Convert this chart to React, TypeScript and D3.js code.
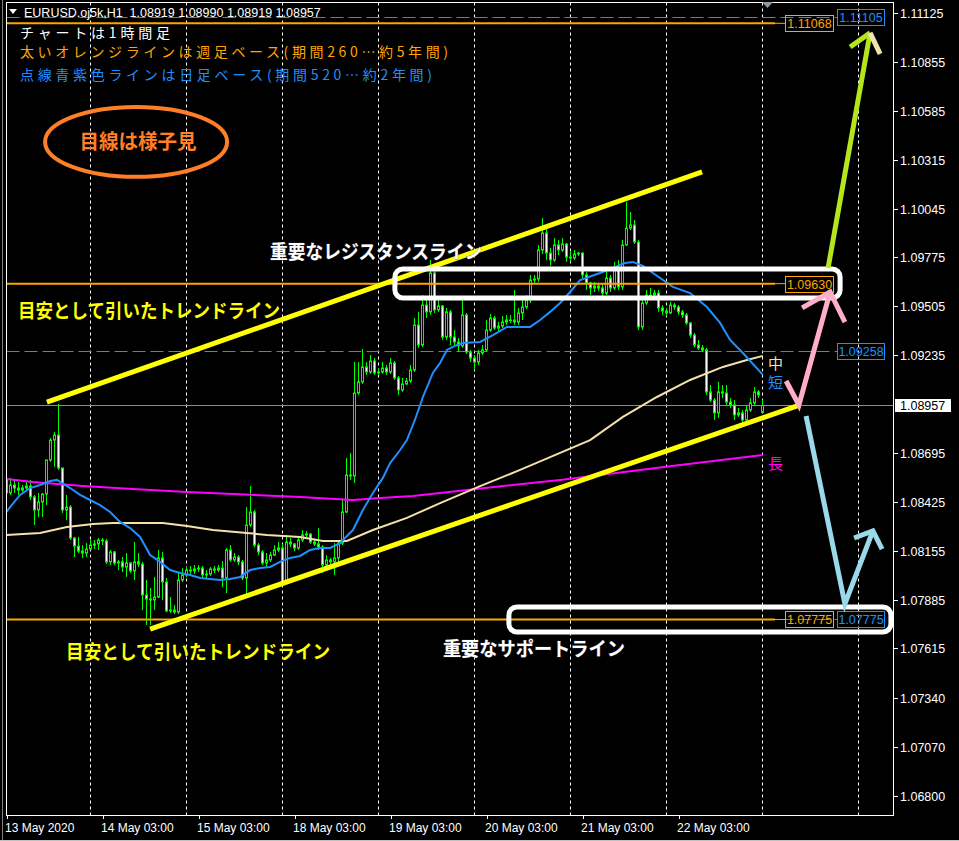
import React, { useEffect } from 'react';
import * as d3 from 'd3';

const W = 959;
const H = 841;

// ---- candle data (EURUSD H1, 13 May 03:00 .. 22 May) ----
const OPEN_FIRST = 1.08546;
const OPEN_LAST = 1.08919;
const closes = [
  1.08474, 1.08518, 1.08501, 1.0849, 1.08501, 1.08512, 1.08452, 1.0838, 1.08424, 1.08468,
  1.08656, 1.08766, 1.08794, 1.08612, 1.0838, 1.08396, 1.08225, 1.08181, 1.08153, 1.08142,
  1.08164, 1.08186, 1.08192, 1.08214, 1.08209, 1.08093, 1.08148, 1.08087, 1.08093, 1.08065,
  1.08087, 1.08043, 1.08093, 1.08081, 1.0791, 1.07888, 1.07883, 1.07899, 1.08115, 1.07982,
  1.07822, 1.07827, 1.07816, 1.07993, 1.08021, 1.08048, 1.08043, 1.08054, 1.08059, 1.08021,
  1.08026, 1.08054, 1.08048, 1.08059, 1.08004, 1.08159, 1.08104, 1.0812, 1.08093, 1.08004,
  1.08297, 1.08369, 1.08186, 1.08148, 1.08087, 1.08104, 1.08131, 1.08159, 1.0817, 1.07982,
  1.08203, 1.08192, 1.0817, 1.08214, 1.08242, 1.08247, 1.08203, 1.08192, 1.08175, 1.08076,
  1.08104, 1.08093, 1.08115, 1.08197, 1.08369, 1.08573, 1.08568, 1.09026, 1.09087, 1.0917,
  1.09142, 1.09203, 1.09137, 1.09142, 1.09164, 1.09142, 1.09192, 1.09109, 1.09043, 1.09076,
  1.09092, 1.09153, 1.09402, 1.09291, 1.09512, 1.09474, 1.09689, 1.09485, 1.09507, 1.09335,
  1.09474, 1.09335, 1.09308, 1.09286, 1.09457, 1.09253, 1.09219, 1.09197, 1.09247, 1.09264,
  1.09374, 1.0944, 1.09385, 1.09396, 1.09418, 1.09429, 1.09429, 1.09418, 1.09468, 1.09501,
  1.0954, 1.0965, 1.09656, 1.09816, 1.0991, 1.09799, 1.09761, 1.09844, 1.09816, 1.09849,
  1.09777, 1.09772, 1.09794, 1.09799, 1.09678, 1.09634, 1.09606, 1.09617, 1.09606, 1.09578,
  1.09661, 1.09606, 1.09706, 1.09612, 1.09844, 1.09937, 1.09954, 1.0986, 1.09391, 1.09523,
  1.09567, 1.09567, 1.09578, 1.09496, 1.09479, 1.09468, 1.09512, 1.09501, 1.09474, 1.09457,
  1.09413, 1.09346, 1.09291, 1.09275, 1.09264, 1.09032, 1.08987, 1.08916, 1.09032, 1.09026,
  1.08976, 1.0896, 1.08905, 1.08916, 1.08877, 1.08932, 1.08971, 1.09032, 1.09015, 1.08957,
];
const highs = [
  1.08568, 1.08557, 1.08546, 1.08534, 1.08518, 1.08534, 1.08546, 1.08463, 1.08474, 1.08474,
  1.08656, 1.08778, 1.08811, 1.08965, 1.08612, 1.08463, 1.08407, 1.08231, 1.08231, 1.08186,
  1.08197, 1.08214, 1.08214, 1.08225, 1.08225, 1.0822, 1.08159, 1.08153, 1.08104, 1.0812,
  1.08142, 1.08093, 1.08203, 1.08142, 1.08093, 1.07993, 1.07949, 1.0801, 1.08159, 1.08148,
  1.08004, 1.07899, 1.07855, 1.08032, 1.08059, 1.08065, 1.0807, 1.08076, 1.08076, 1.0807,
  1.08048, 1.08065, 1.0807, 1.08076, 1.08098, 1.0817, 1.08186, 1.08142, 1.08131, 1.08104,
  1.08396, 1.08512, 1.0838, 1.08197, 1.08159, 1.08142, 1.08148, 1.08186, 1.08203, 1.08192,
  1.08242, 1.08225, 1.08197, 1.08231, 1.08269, 1.08264, 1.08253, 1.08214, 1.0828, 1.08186,
  1.08131, 1.08115, 1.08197, 1.08214, 1.08435, 1.08667, 1.08695, 1.09197, 1.09197, 1.09269,
  1.09197, 1.09236, 1.09219, 1.09164, 1.09197, 1.09181, 1.09219, 1.09203, 1.0912, 1.09109,
  1.09109, 1.09181, 1.0944, 1.09474, 1.09567, 1.0954, 1.09761, 1.09733, 1.0954, 1.09512,
  1.09496, 1.09485, 1.09374, 1.0933, 1.0954, 1.09468, 1.09264, 1.09236, 1.09264, 1.09291,
  1.09429, 1.09462, 1.09451, 1.09418, 1.09451, 1.09457, 1.09457, 1.09595, 1.09496, 1.0954,
  1.09567, 1.09678, 1.09678, 1.09844, 1.09993, 1.09937, 1.09827, 1.09882, 1.09871, 1.09882,
  1.09855, 1.09805, 1.09816, 1.09805, 1.09805, 1.09694, 1.09639, 1.09639, 1.09628, 1.09628,
  1.09706, 1.09678, 1.0975, 1.09761, 1.09871, 1.10081, 1.10026, 1.09982, 1.09871, 1.0954,
  1.09595, 1.09606, 1.09595, 1.09595, 1.09512, 1.09496, 1.09529, 1.09523, 1.09512, 1.09485,
  1.09468, 1.09418, 1.09357, 1.09319, 1.09291, 1.09275, 1.0907, 1.08998, 1.09087, 1.0907,
  1.0907, 1.08998, 1.08987, 1.08943, 1.08932, 1.0896, 1.08998, 1.09059, 1.09043, 1.0899,
];
const lows = [
  1.08446, 1.08463, 1.08474, 1.08463, 1.08479, 1.0849, 1.08435, 1.08297, 1.08341, 1.08341,
  1.08407, 1.08645, 1.08617, 1.08601, 1.08363, 1.08325, 1.08214, 1.0812, 1.08142, 1.08115,
  1.0812, 1.08159, 1.08164, 1.08159, 1.08186, 1.08081, 1.08076, 1.08076, 1.08048, 1.08037,
  1.0801, 1.08032, 1.07993, 1.08065, 1.07827, 1.07745, 1.07745, 1.07827, 1.07894, 1.07883,
  1.07816, 1.07811, 1.07805, 1.07805, 1.07982, 1.0801, 1.08021, 1.08026, 1.08037, 1.08004,
  1.07999, 1.08015, 1.08032, 1.08037, 1.07954, 1.07921, 1.08093, 1.08093, 1.08076, 1.07993,
  1.0791, 1.08286, 1.08175, 1.08131, 1.08076, 1.08065, 1.08093, 1.08126, 1.08148, 1.07966,
  1.07971, 1.08175, 1.08153, 1.08159, 1.08203, 1.08225, 1.08192, 1.08181, 1.08159, 1.08032,
  1.0807, 1.08081, 1.08021, 1.08093, 1.08186, 1.08363, 1.08546, 1.08529, 1.09015, 1.09076,
  1.09126, 1.09131, 1.09126, 1.09126, 1.09131, 1.09126, 1.09131, 1.09098, 1.09015, 1.09032,
  1.0907, 1.09081, 1.09142, 1.09275, 1.0928, 1.0944, 1.09457, 1.09468, 1.09474, 1.09319,
  1.09319, 1.09291, 1.0928, 1.09253, 1.09275, 1.09242, 1.09197, 1.09153, 1.09181, 1.09236,
  1.09253, 1.09363, 1.09374, 1.09363, 1.09385, 1.09402, 1.09413, 1.09402, 1.09402, 1.09429,
  1.0949, 1.09523, 1.09634, 1.09639, 1.09794, 1.09761, 1.09728, 1.0975, 1.09788, 1.09805,
  1.0975, 1.0975, 1.09761, 1.09783, 1.09661, 1.09595, 1.09567, 1.09584, 1.0959, 1.09551,
  1.09567, 1.09584, 1.09595, 1.09595, 1.09595, 1.09838, 1.09926, 1.09849, 1.09374, 1.09374,
  1.09512, 1.0954, 1.09551, 1.09474, 1.09457, 1.09451, 1.09462, 1.09485, 1.09457, 1.0944,
  1.09402, 1.0933, 1.0928, 1.09264, 1.09253, 1.09015, 1.08976, 1.08877, 1.08888, 1.08998,
  1.0896, 1.08943, 1.08877, 1.08894, 1.0886, 1.08871, 1.08921, 1.0896, 1.08998, 1.08919,
];

// ---- moving averages as [bar, price] ----
const maShort: [number, number][] = [
  [0, 1.08369], [0.9, 1.08396], [3.4, 1.08463], [5.9, 1.08501], [8.4, 1.08518], [10.9, 1.0854],
  [12.6, 1.08546], [13.9, 1.08529], [15.9, 1.08501], [18.4, 1.08463], [20.9, 1.08435],
  [23.4, 1.08407], [25.9, 1.08369], [28.4, 1.08314], [30.9, 1.0828], [33.4, 1.08231],
  [35.9, 1.08131], [38.4, 1.08093], [40.9, 1.08048], [43.4, 1.08032], [45.9, 1.08021],
  [48.4, 1.08004], [50.9, 1.07999], [53.4, 1.07993], [55.9, 1.07999], [58.4, 1.0801],
  [60.9, 1.08048], [63.4, 1.08059], [65.9, 1.08065], [68.4, 1.08093], [70.9, 1.08115],
  [73.4, 1.08126], [75.9, 1.08159], [78.4, 1.0817], [80.9, 1.0817], [83.4, 1.08197],
  [84.6, 1.08225], [86.6, 1.08269], [89.1, 1.0838], [91.6, 1.08474], [94.1, 1.08557],
  [95.9, 1.08639], [98.4, 1.08711], [100.1, 1.08766], [102.1, 1.08877], [104.1, 1.09004],
  [106.6, 1.09137], [108.4, 1.09192], [110.1, 1.09264], [112.1, 1.09286], [114.1, 1.09302],
  [118.4, 1.09308], [121.6, 1.09346], [125.1, 1.09391], [130.9, 1.09391], [133.4, 1.09429],
  [135.9, 1.09474], [138.4, 1.09523], [140.9, 1.09584], [143.4, 1.0965], [148.4, 1.09689],
  [151.6, 1.09717], [154.6, 1.09744], [156.6, 1.0975], [159.1, 1.09728], [161.6, 1.09689],
  [166.6, 1.09612], [170.9, 1.09578], [175.1, 1.09501], [178.4, 1.09413], [180.9, 1.09319],
  [184.1, 1.09247], [189.1, 1.09126],
];
const maMid: [number, number][] = [
  [0, 1.08242], [8.4, 1.08253], [15.1, 1.08286], [21.6, 1.08302], [26.6, 1.08308],
  [39.1, 1.08308], [45.1, 1.08291], [51.6, 1.08269], [60.1, 1.08253], [65.1, 1.08242],
  [73.4, 1.08231], [79.1, 1.08209], [85.1, 1.08209], [91.6, 1.08269], [100.1, 1.08336],
  [108.4, 1.08418], [118.4, 1.08512], [128.4, 1.08601], [138.4, 1.08695], [145.9, 1.08766],
  [154.1, 1.08894], [162.6, 1.09004], [170.9, 1.09098], [179.1, 1.0917], [185.1, 1.09208],
  [189.1, 1.09231],
];
const maLong: [number, number][] = [
  [0, 1.08551], [6.6, 1.08534], [19.1, 1.08512], [31.6, 1.08496], [45.1, 1.08479],
  [56.6, 1.08468], [73.4, 1.08452], [86.6, 1.08435], [93.4, 1.08446], [101.6, 1.08457],
  [108.4, 1.08474], [138.4, 1.08546], [168.4, 1.08628], [189.1, 1.08684],
];

// ---- axis ----
const priceTicks = [
  1.11125, 1.10855, 1.10585, 1.10315, 1.10045, 1.09775, 1.09505, 1.09235,
  1.08695, 1.08425, 1.08155, 1.07885, 1.07615, 1.0734, 1.0707, 1.068,
];
const timeTickBars = [0, 24, 48, 72, 96, 120, 144, 168];
const timeTickLabels = [
  '13 May 2020', '14 May 03:00', '15 May 03:00', '18 May 03:00',
  '19 May 03:00', '20 May 03:00', '21 May 03:00', '22 May 03:00',
];
const gridBars = [21, 45, 69, 93, 117, 141, 165, 189, 213];
const CURRENT_PRICE = 1.08957;
const orangeLevels = [1.11068, 1.0963, 1.07775];
const blueLevels = [1.11105, 1.09258, 1.07775];

// ---- annotations in chart coordinates [bar, price] ----
const upperTrend: [number, number][] = [[10.1, 1.08976], [173.9, 1.10247]];
const lowerTrend: [number, number][] = [[35.9, 1.07722], [198.4, 1.0896]];
const greenArrow: [number, number][] = [[205.4, 1.09717], [215.9, 1.11015]];
const greenHeadL: [number, number][] = [[210.9, 1.10937], [215.9, 1.11015]];
const greenHeadR: [number, number][] = [[215.9, 1.11015], [218.4, 1.10899]];
const pinkArrow: [number, number][] = [[194.9, 1.09092], [198.1, 1.0896], [205.9, 1.09584]];
const pinkHead: [number, number][] = [[198.9, 1.09496], [205.9, 1.09584], [209.6, 1.09418]];
const blueArrow: [number, number][] = [[199.9, 1.08899], [209.6, 1.07861], [216.6, 1.08264]];
const blueHead: [number, number][] = [[211.9, 1.08225], [216.6, 1.08264], [218.9, 1.08164]];
const resistBox = { b0: 97.1, b1: 208.4, p0: 1.09711, p1: 1.09551 };
const supportBox = { b0: 125.6, b1: 221.1, p0: 1.07844, p1: 1.07706 };
const ellipse = { b: 32.4, p: 1.10413, rb: 22.75, rp: 0.00193 };

export default function App() {
  useEffect(() => {
    document.body.style.margin = '0';
    document.body.style.background = '#000';
  }, []);

  const xS = d3.scaleLinear().domain([0, 221.625]).range([6.5, 893]);
  const yS = d3.scaleLinear().domain([1.068, 1.11125]).range([796, 13]);
  const lastIdx = closes.length - 1;
  const opens = closes.map((c, i) => (i === 0 ? OPEN_FIRST : i === lastIdx ? OPEN_LAST : closes[i - 1]));

  const line = d3.line<[number, number]>().x((d) => xS(d[0])).y((d) => yS(d[1]));
  const plotL = 6.5, plotR = 893.5, plotT = 2.5, plotB = 815.5;
  const axisFont = "'Liberation Sans', Arial, sans-serif";
  const jp = "'Noto Sans CJK JP', sans-serif";
  const crisp = (v: number) => Math.round(v) + 0.5;

  return (
    <svg width={W} height={H} style={{ position: 'absolute', left: 0, top: 0, background: '#000', display: 'block' }}>
      <rect x={0} y={0} width={W} height={H} fill="#000" />
      <line x1={2.5} x2={2.5} y1={0} y2={H} stroke="#808080" />
      <line x1={0} x2={W} y1={840.5} y2={840.5} stroke="#c0c0c0" />
      <defs>
        <clipPath id="plot">
          <rect x={plotL} y={plotT} width={plotR - plotL} height={plotB - plotT} />
        </clipPath>
      </defs>

      {/* grid */}
      {gridBars.map((b) => (
        <line key={b} x1={Math.floor(xS(b)) + 0.5} x2={Math.floor(xS(b)) + 0.5} y1={plotT} y2={plotB}
          stroke="#ffffff" strokeDasharray="3,3" />
      ))}

      <g clipPath="url(#plot)">
        {/* current price line */}
        <line x1={plotL} x2={plotR} y1={crisp(yS(CURRENT_PRICE))} y2={crisp(yS(CURRENT_PRICE))} stroke="#8c8c8c" />
        {/* blue dashed levels */}
        {blueLevels.map((p) => (
          <line key={'b' + p} x1={plotL} x2={837} y1={crisp(yS(p))} y2={crisp(yS(p))}
            stroke="#1E90FF" strokeDasharray="13,5" />
        ))}

        {/* candles */}
        {closes.map((c, i) => {
          const o = opens[i];
          const cx = xS(i);
          const yo = yS(o), yc = yS(c);
          const top = Math.min(yo, yc), bot = Math.max(yo, yc);
          const bull = c >= o;
          return (
            <g key={i}>
              <line x1={cx} x2={cx} y1={yS(highs[i])} y2={yS(lows[i])} stroke="#00ff00" />
              <rect x={cx - 1} y={top} width={2} height={Math.max(bot - top, 0.6)}
                fill={bull ? '#000' : '#fff'} stroke="#00ff00" strokeWidth={1} />
            </g>
          );
        })}

        {/* moving averages */}
        <path d={line(maLong) || ''} fill="none" stroke="#FF00FF" strokeWidth={2} />
        <path d={line(maMid) || ''} fill="none" stroke="#F5E1A8" strokeWidth={2} />
        <path d={line(maShort) || ''} fill="none" stroke="#1E90FF" strokeWidth={2} />

        {/* orange levels */}
        {orangeLevels.map((p) => (
          <g key={'o' + p}>
            <line x1={plotL} x2={775} y1={yS(p)} y2={yS(p)} stroke="#FFA500" strokeWidth={2} />
            <line x1={775} x2={785} y1={yS(p)} y2={yS(p)} stroke="#FFA500" strokeWidth={1} />
          </g>
        ))}
      </g>

      {/* level labels */}
      {orangeLevels.map((p) => (
        <g key={'ol' + p}>
          <rect x={785.5} y={Math.round(yS(p)) - 7.5} width={48} height={16} fill="none" stroke="#FFA500" />
          <text x={809.5} y={Math.round(yS(p)) + 5} textAnchor="middle" fill="#FFA500" fontFamily={axisFont} fontSize={12.5}>
            {p.toFixed(5)}
          </text>
        </g>
      ))}
      {blueLevels.map((p) => (
        <g key={'bl' + p}>
          <rect x={837.5} y={Math.round(yS(p)) - 7.5} width={47} height={16} fill="none" stroke="#1E90FF" />
          <text x={861} y={Math.round(yS(p)) + 5} textAnchor="middle" fill="#1E90FF" fontFamily={axisFont} fontSize={12.5}>
            {p.toFixed(5)}
          </text>
        </g>
      ))}

      {/* trend lines */}
      <path d={line(upperTrend) || ''} stroke="#FFFF00" strokeWidth={5} fill="none" />
      <path d={line(lowerTrend) || ''} stroke="#FFFF00" strokeWidth={5} fill="none" />

      {/* white boxes */}
      <rect x={xS(resistBox.b0)} y={yS(resistBox.p0)} width={xS(resistBox.b1) - xS(resistBox.b0)}
        height={yS(resistBox.p1) - yS(resistBox.p0)} rx={8} fill="none" stroke="#fff" strokeWidth={5} />
      <rect x={xS(supportBox.b0)} y={yS(supportBox.p0)} width={xS(supportBox.b1) - xS(supportBox.b0)}
        height={yS(supportBox.p1) - yS(supportBox.p0)} rx={8} fill="none" stroke="#fff" strokeWidth={5} />

      {/* orange ellipse */}
      <ellipse cx={xS(ellipse.b)} cy={yS(ellipse.p)} rx={xS(ellipse.b + ellipse.rb) - xS(ellipse.b)}
        ry={yS(ellipse.p - ellipse.rp) - yS(ellipse.p)} fill="none" stroke="#FF7F27" strokeWidth={4} />
      <text x={xS(ellipse.b) + 2} y={yS(ellipse.p) + 7} textAnchor="middle" fill="#FF7F27" fontFamily={jp}
        fontWeight={700} fontSize={20} textLength={117} lengthAdjust="spacingAndGlyphs">目線は様子見</text>

      {/* annotation texts */}
      <text x={xS(65.9)} y={yS(1.09805) + 7} fill="#ffffff" fontFamily={jp} fontWeight={700} fontSize={19}
        textLength={212} lengthAdjust="spacingAndGlyphs" stroke="#445" strokeWidth={0.6} paintOrder="stroke">重要なレジスタンスライン</text>
      <text x={xS(2.9)} y={yS(1.09479) + 7} fill="#FFFF00" fontFamily={jp} fontWeight={700} fontSize={19}
        textLength={262} lengthAdjust="spacingAndGlyphs">目安として引いたトレンドライン</text>
      <text x={xS(14.9)} y={yS(1.07595) + 7} fill="#FFFF00" fontFamily={jp} fontWeight={700} fontSize={19}
        textLength={264} lengthAdjust="spacingAndGlyphs">目安として引いたトレンドライン</text>
      <text x={xS(109.1)} y={yS(1.07612) + 7} fill="#ffffff" fontFamily={jp} fontWeight={700} fontSize={19}
        textLength={182} lengthAdjust="spacingAndGlyphs" stroke="#445" strokeWidth={0.6} paintOrder="stroke">重要なサポートライン</text>

      {/* MA labels */}
      <text x={xS(190.4)} y={yS(1.09192) + 6} fill="#F5E1A8" fontFamily={jp} fontSize={15}>中</text>
      <text x={xS(190.4)} y={yS(1.09087) + 6} fill="#1E90FF" fontFamily={jp} fontSize={15}>短</text>
      <text x={xS(190.4)} y={yS(1.08639) + 6} fill="#FF00FF" fontFamily={jp} fontSize={15}>長</text>

      {/* arrows */}
      <g fill="none" strokeWidth={5} strokeLinecap="butt" strokeLinejoin="miter">
        <path d={line(greenArrow) || ''} stroke="#B5E61D" />
        <path d={line(greenHeadL) || ''} stroke="#B5E61D" />
        <path d={line(greenHeadR) || ''} stroke="#EFE4B0" />
        <path d={line(pinkArrow) || ''} stroke="#FFAEC9" />
        <path d={line(pinkHead) || ''} stroke="#FFAEC9" />
        <path d={line(blueArrow) || ''} stroke="#99D9EA" />
        <path d={line(blueHead) || ''} stroke="#99D9EA" />
      </g>

      {/* frame */}
      <rect x={plotL} y={plotT} width={plotR - plotL} height={plotB - plotT} fill="none" stroke="#ffffff" />
      <polygon points="762,2 773,2 767.5,8" fill="#8a9aa8" />

      {/* header */}
      <polygon points="9,9 17,9 13,14" fill="#ffffff" />
      <text x={24} y={17} fill="#ffffff" fontFamily={axisFont} fontSize={12.5} style={{ whiteSpace: 'pre' }}>
        {'EURUSD.oj5k,H1  1.08919 1.08990 1.08919 1.08957'}
      </text>
      <text x={20} y={38} fill="#ffffff" fontFamily={jp} fontSize={14} textLength={150} lengthAdjust="spacing">チャートは1時間足</text>
      <text x={20} y={57} fill="#FFA500" fontFamily={jp} fontSize={14} textLength={428} lengthAdjust="spacing">太いオレンジラインは週足ベース(期間260…約5年間)</text>
      <text x={20} y={80} fill="#1E90FF" fontFamily={jp} fontSize={14} textLength={412} lengthAdjust="spacing">点線青紫色ラインは日足ベース(期間520…約2年間)</text>

      {/* price axis */}
      {priceTicks.map((p) => (
        <g key={'pt' + p}>
          <line x1={893} x2={898} y1={crisp(yS(p))} y2={crisp(yS(p))} stroke="#fff" />
          <text x={900} y={Math.round(yS(p)) + 5} fill="#fff" fontFamily={axisFont} fontSize={12.5}>{p.toFixed(5)}</text>
        </g>
      ))}
      <rect x={895} y={Math.round(yS(CURRENT_PRICE)) - 6} width={56} height={13} fill="#fff" />
      <text x={900} y={Math.round(yS(CURRENT_PRICE)) + 5} fill="#000" fontFamily={axisFont} fontSize={12.5}>{CURRENT_PRICE.toFixed(5)}</text>

      {/* time axis */}
      {timeTickBars.map((b, i) => (
        <g key={'tt' + b}>
          <line x1={crisp(xS(b))} x2={crisp(xS(b))} y1={815} y2={819} stroke="#fff" />
          <text x={xS(b) - 1.5} y={832} fill="#fff" fontFamily={axisFont} fontSize={12}>{timeTickLabels[i]}</text>
        </g>
      ))}
    </svg>
  );
}
